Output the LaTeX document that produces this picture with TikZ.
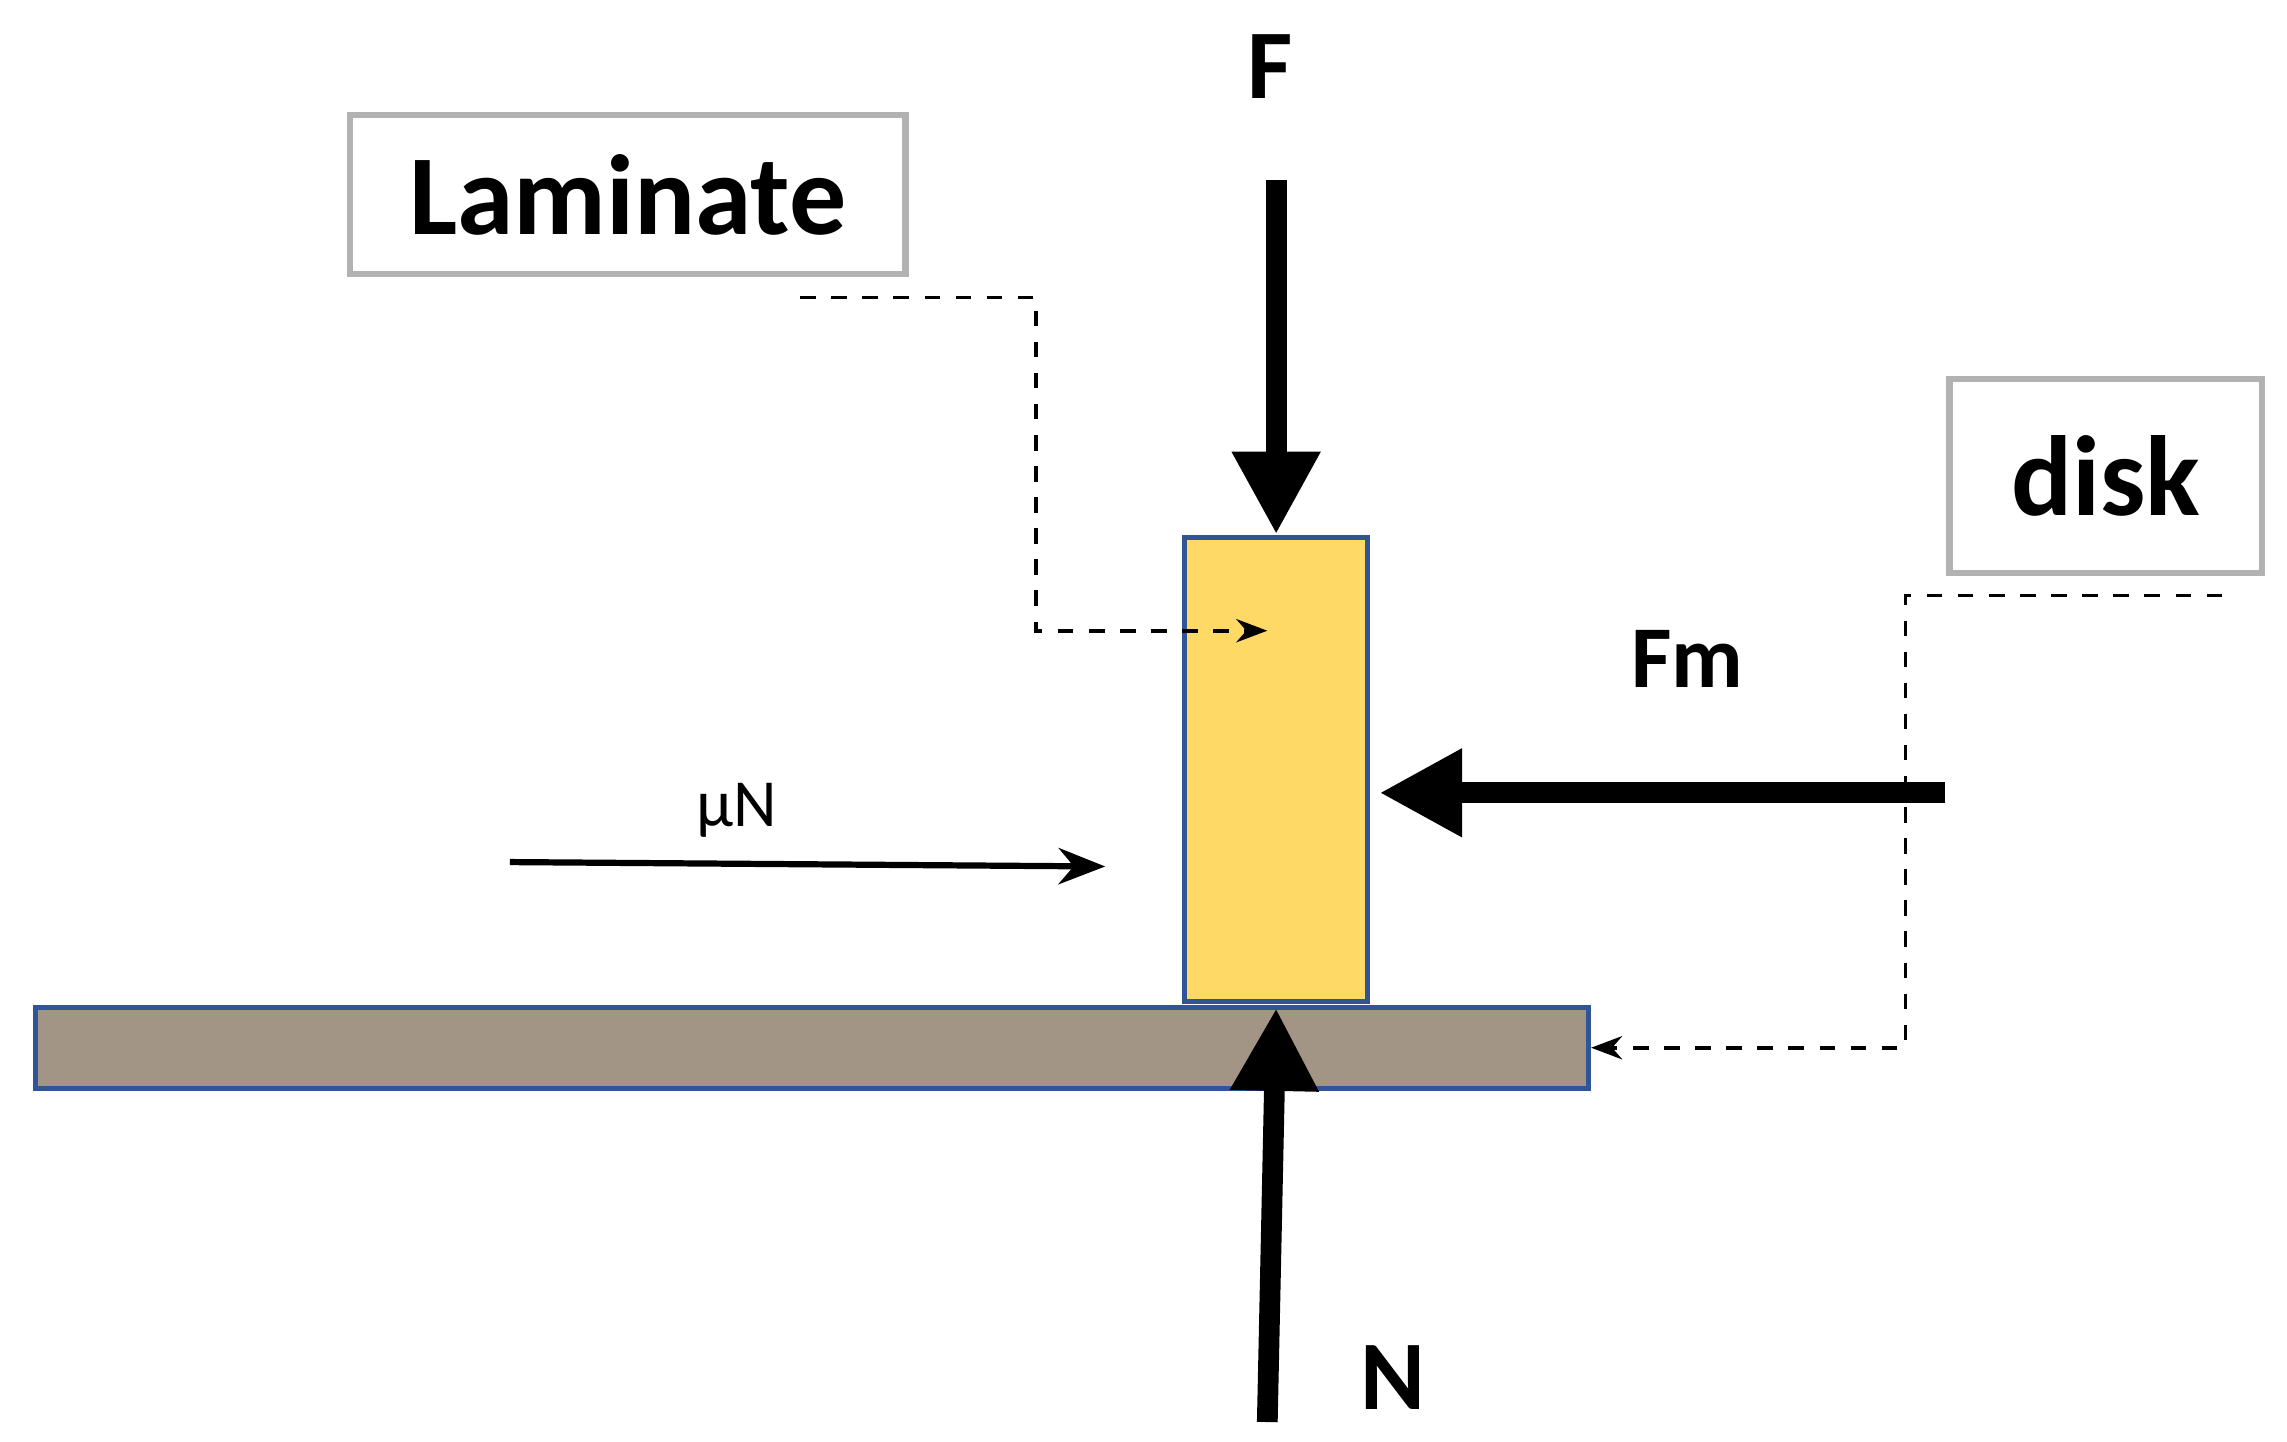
\documentclass[tikz,border=0pt]{standalone}
\usepackage{fontspec}
\setmainfont{Carlito}
\usetikzlibrary{arrows.meta}
\definecolor{yel}{HTML}{FFD966}
\definecolor{bord}{HTML}{2F5597}
\definecolor{gnd}{HTML}{A39585}
\begin{document}
\begin{tikzpicture}[x=0.01cm,y=-0.01cm,
 big/.style={line width=4pt,-{Triangle[length=16pt,width=16pt]}},
 lbl/.style={draw=gray!60,line width=1.2pt,inner sep=0pt,font=\bfseries\fontsize{22}{24}\selectfont},
 dconn/.style={dashed,line width=0.7pt,-{Stealth[length=6pt]}},
 ftxt/.style={font=\bfseries\fontsize{19}{21}\selectfont}]
\useasboundingbox (0,0) rectangle (1552,978);
\node[lbl,minimum width=377*0.01cm,minimum height=108*0.01cm] (lam) at (426,132) {Laminate};
\node[lbl,minimum width=212*0.01cm,minimum height=132*0.01cm] (disk) at (1429,323) {disk};
\node[draw=bord,line width=1pt,fill=gnd,minimum width=1054*0.01cm,minimum height=55*0.01cm,inner sep=0pt] (gnd) at (551,711) {};
\node[draw=bord,line width=1pt,fill=yel,minimum width=124*0.01cm,minimum height=315*0.01cm,inner sep=0pt] (blk) at (866,522) {};
\node[ftxt] (F) at (862,45) {F};
\node[ftxt] (N) at (945,935) {N};
\node[font=\bfseries\fontsize{17}{19}\selectfont] (Fm) at (1145,447) {Fm};
\node[font=\fontsize{13}{15}\selectfont] (mu) at (500,550) {\textmu N};
\coordinate (ft) at (866,122);
\coordinate (nt) at (860,965);
\coordinate (fmt) at (1320,538);
\coordinate (mus) at (346,585);
\coordinate (mue) at (750,588);
\coordinate (l0) at (543,202);
\coordinate (l1) at (860,428);
\coordinate (d0) at (1508,404);
\draw[big] (ft) -- (blk.north);
\draw[big] (nt) -- (866,684);
\draw[big] (fmt) -- (936,538);
\draw[line width=1.2pt,-{Stealth[length=9pt,width=7pt]}] (mus) -- (mue);
\draw[dconn] (l0) -| (703,428) -- (l1);
\draw[dconn] (d0) -| (1293,711) -- (gnd.east);
\end{tikzpicture}
\end{document}
